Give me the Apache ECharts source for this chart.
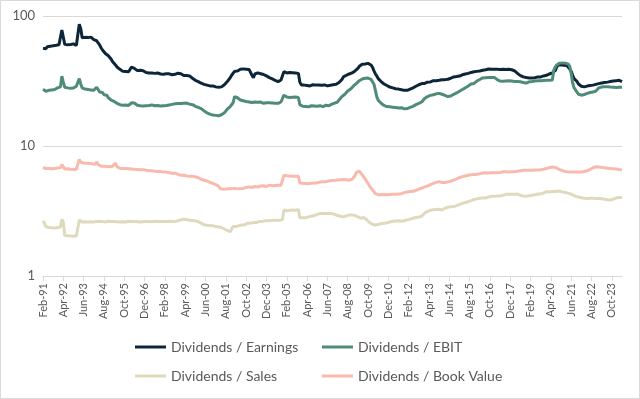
<!DOCTYPE html>
<html>
<head>
<meta charset="utf-8">
<script src="https://cdn.jsdelivr.net/npm/echarts@6/dist/echarts.min.js"></script>
<style>
  html, body { margin: 0; padding: 0; background: #fff; }
  #chart { width: 640px; height: 399px; }
</style>
</head>
<body>
<div id="chart"></div>
<script>
// monthly observations, Feb-91 .. May-24 (one row = Feb..Jan)
const divEarnings = [
  56.5, 57.2, 56.0, 58.1, 57.4, 58.6, 57.9, 59.0, 58.3, 59.5, 58.8, 60.1,
  61.0, 78.0, 77.0, 60.5, 61.2, 60.0, 61.5, 60.3, 59.8, 61.0, 60.2, 59.5,
  60.5, 86.5, 80.0, 68.0, 69.3, 68.5, 69.8, 68.2, 67.5, 68.8, 66.5, 65.8,
  66.8, 64.5, 65.2, 60.0, 57.0, 54.8, 53.0, 51.5, 50.2, 49.5, 48.7, 46.5,
  44.5, 43.0, 42.0, 40.5, 39.6, 38.9, 37.8, 37.5, 38.0, 37.4, 37.6, 37.2,
  38.2, 40.5, 40.8, 39.6, 38.5, 38.0, 37.6, 38.2, 37.5, 37.9, 37.0, 36.8,
  37.2, 36.5, 36.9, 36.4, 36.8, 36.2, 35.9, 36.5, 36.0, 35.8, 36.3, 35.7,
  35.5, 36.0, 35.4, 35.9, 35.8, 35.3, 36.2, 35.6, 35.9, 36.3, 36.5, 36.0,
  35.2, 34.8, 34.5, 34.9, 34.3, 34.6, 34.0, 33.2, 32.8, 32.0, 31.6, 31.3,
  31.0, 30.4, 30.0, 29.8, 29.5, 29.4, 29.2, 29.0, 28.9, 29.0, 28.6, 28.5,
  28.4, 28.3, 28.6, 28.5, 29.0, 29.6, 30.5, 31.3, 32.0, 33.5, 35.0, 36.0,
  37.5, 37.0, 37.8, 38.5, 39.0, 39.5, 39.2, 39.6, 39.0, 38.5, 38.8, 37.5,
  35.0, 33.5, 35.8, 37.0, 36.5, 37.2, 36.0, 35.8, 35.5, 35.2, 34.6, 34.0,
  33.6, 33.2, 32.8, 32.4, 32.0, 31.6, 31.3, 31.5, 32.2, 33.0, 37.3, 37.0,
  36.5, 37.2, 36.8, 36.3, 36.6, 36.0, 36.4, 35.8, 36.2, 31.0, 29.5, 29.8,
  29.4, 29.6, 29.2, 29.5, 29.0, 29.3, 29.6, 29.1, 29.4, 29.2, 29.5, 29.0,
  29.3, 29.1, 29.5, 29.2, 29.0, 29.4, 29.3, 29.1, 29.6, 29.4, 29.8, 30.2,
  30.8, 31.5, 32.5, 34.0, 34.5, 35.0, 35.2, 35.8, 36.0, 36.5, 37.2, 37.8,
  38.4, 39.5, 41.0, 42.0, 42.5, 43.0, 42.8, 43.5, 43.2, 42.6, 42.0, 40.5,
  38.0, 36.0, 34.5, 33.0, 32.2, 31.3, 30.8, 30.0, 29.5, 29.2, 28.8, 28.4,
  28.1, 28.0, 27.8, 27.6, 27.5, 27.4, 27.3, 27.1, 26.9, 26.8, 26.7, 26.8,
  27.0, 27.4, 27.7, 28.0, 28.4, 28.8, 29.3, 29.6, 30.0, 30.2, 30.5, 30.3,
  30.8, 31.0, 31.3, 31.1, 31.5, 31.8, 32.0, 31.8, 32.2, 32.0, 32.5, 32.3,
  32.6, 32.4, 32.8, 32.6, 33.0, 33.2, 33.6, 34.0, 33.8, 34.2, 34.6, 34.5,
  35.0, 35.3, 35.5, 35.8, 36.0, 36.2, 36.5, 36.8, 37.0, 37.2, 37.4, 37.5,
  37.5, 37.8, 38.0, 38.2, 38.4, 38.6, 38.8, 39.1, 38.8, 39.0, 39.3, 39.0,
  38.7, 38.9, 39.2, 38.8, 38.6, 38.9, 38.4, 38.7, 38.6, 38.9, 38.5, 38.6,
  38.5, 37.8, 37.0, 36.2, 35.5, 34.8, 34.2, 34.0, 33.8, 33.6, 33.7, 33.4,
  33.6, 33.3, 33.8, 33.5, 33.5, 34.0, 33.8, 34.0, 34.3, 34.6, 34.5, 35.0,
  35.3, 35.8, 36.2, 36.5, 37.0, 38.0, 40.5, 42.0, 41.8, 42.2, 42.0, 41.8,
  42.2, 41.6, 41.5, 39.0, 37.5, 35.0, 33.0, 32.0, 31.3, 30.0, 29.2, 28.8,
  28.6, 28.5, 28.7, 28.9, 29.0, 29.2, 29.0, 29.4, 29.6, 29.8, 30.0, 30.2,
  30.3, 30.5, 30.4, 30.8, 30.6, 31.0, 31.0, 31.3, 31.2, 31.6, 31.4, 31.8,
  31.8, 32.0, 31.6, 31.3
];

const divEbit = [
  27.3, 27.0, 26.4, 27.2, 26.8, 27.4, 27.0, 27.6, 27.2, 27.8, 28.0, 28.3,
  28.5, 34.5, 31.0, 28.3, 28.6, 28.0, 28.4, 27.8, 28.2, 27.9, 28.1, 28.8,
  29.0, 33.0, 30.0, 28.0, 27.8, 27.4, 27.8, 27.2, 27.6, 27.0, 27.4, 26.8,
  27.0, 28.3, 27.2, 26.0, 25.5, 25.8, 24.8, 24.2, 24.6, 23.5, 22.8, 22.5,
  22.8, 22.0, 21.6, 21.3, 21.0, 20.8, 21.2, 20.6, 21.0, 20.7, 20.9, 20.5,
  20.8, 21.5, 22.0, 21.4, 21.0, 20.6, 20.9, 20.4, 20.8, 20.3, 20.6, 20.4,
  20.2, 20.5, 20.3, 20.7, 20.2, 20.4, 20.1, 20.5, 20.2, 20.3, 20.0, 20.4,
  20.2, 20.5, 20.4, 20.7, 20.6, 20.9, 21.0, 21.1, 21.3, 21.2, 21.4, 21.2,
  21.5, 21.3, 21.6, 21.4, 21.1, 21.0, 20.6, 20.8, 20.5, 20.2, 20.0, 19.8,
  19.7, 19.4, 19.0, 18.6, 18.2, 18.0, 17.8, 17.6, 17.4, 17.3, 17.5, 17.2,
  17.0, 17.1, 17.0, 17.4, 17.8, 18.0, 18.5, 19.2, 19.6, 20.1, 20.8, 21.5,
  24.0, 23.2, 23.5, 23.0, 22.6, 22.6, 22.3, 22.5, 22.0, 22.3, 21.8, 22.0,
  21.6, 21.5, 21.8, 21.4, 21.7, 21.9, 21.8, 21.5, 21.3, 21.6, 21.5, 21.3,
  21.5, 21.2, 21.4, 21.0, 21.3, 21.1, 21.3, 21.5, 21.8, 22.0, 24.6, 24.2,
  23.8, 24.1, 23.6, 23.9, 23.7, 23.5, 23.8, 23.4, 23.6, 20.8, 20.3, 20.2,
  20.4, 20.1, 20.3, 20.0, 20.2, 20.4, 20.1, 20.3, 20.0, 20.2, 20.1, 20.4,
  20.3, 20.1, 20.4, 20.6, 20.5, 20.4, 20.8, 21.0, 21.2, 21.4, 21.5, 21.8,
  22.6, 23.2, 24.0, 24.5, 25.0, 25.8, 26.5, 27.0, 27.4, 28.2, 29.0, 29.8,
  30.3, 31.0, 31.8, 32.5, 32.8, 33.0, 33.2, 32.8, 33.3, 33.0, 32.6, 31.5,
  30.0, 27.0, 24.0, 22.5, 21.8, 21.3, 20.8, 20.5, 20.2, 20.1, 20.3, 20.0,
  20.1, 19.9, 20.2, 19.8, 20.0, 19.6, 20.1, 19.7, 19.4, 19.3, 19.2, 19.4,
  19.6, 19.8, 20.0, 20.2, 20.5, 20.8, 21.0, 21.3, 21.3, 21.8, 22.5, 23.2,
  23.6, 24.0, 24.2, 24.5, 24.4, 24.8, 25.0, 25.2, 25.0, 25.4, 25.4, 25.0,
  24.6, 24.5, 24.2, 24.0, 24.3, 24.2, 24.6, 25.0, 25.4, 25.6, 26.0, 26.4,
  26.8, 27.2, 27.6, 28.0, 28.5, 29.0, 29.5, 30.0, 30.3, 30.3, 31.0, 31.6,
  32.0, 32.5, 33.0, 33.4, 33.7, 33.5, 33.8, 33.6, 33.9, 33.7, 33.5, 33.7,
  33.2, 32.4, 31.8, 31.6, 31.8, 31.5, 31.7, 31.6, 31.4, 31.7, 31.5, 31.6,
  31.6, 31.3, 31.6, 31.4, 31.6, 31.2, 31.0, 30.8, 30.6, 30.5, 30.8, 31.2,
  31.5, 31.3, 31.8, 31.6, 31.9, 31.7, 32.0, 31.8, 32.1, 31.9, 32.2, 32.0,
  32.3, 32.0, 32.4, 32.2, 38.4, 40.5, 42.0, 43.0, 43.4, 43.0, 43.5, 43.2,
  43.4, 43.0, 42.6, 41.0, 36.0, 30.5, 28.0, 27.2, 26.0, 25.0, 24.8, 24.6,
  24.6, 24.9, 25.2, 25.4, 25.5, 25.8, 25.6, 26.0, 26.1, 26.5, 27.2, 28.0,
  28.6, 28.4, 28.7, 28.5, 28.8, 28.6, 28.6, 28.4, 28.5, 28.3, 28.4, 28.2,
  28.4, 28.3, 28.2, 28.3
];

const divSales = [
  2.66, 2.55, 2.40, 2.33, 2.36, 2.32, 2.35, 2.31, 2.34, 2.33, 2.36, 2.34,
  2.38, 2.73, 2.60, 2.05, 2.03, 2.04, 2.02, 2.03, 2.04, 2.02, 2.03, 2.04,
  2.03, 2.70, 2.64, 2.60, 2.63, 2.61, 2.62, 2.60, 2.63, 2.61, 2.64, 2.60,
  2.62, 2.63, 2.60, 2.64, 2.61, 2.62, 2.63, 2.60, 2.62, 2.64, 2.61, 2.63,
  2.60, 2.62, 2.64, 2.61, 2.63, 2.60, 2.62, 2.61, 2.63, 2.60, 2.62, 2.64,
  2.61, 2.63, 2.60, 2.62, 2.64, 2.61, 2.62, 2.60, 2.63, 2.61, 2.62, 2.64,
  2.60, 2.62, 2.63, 2.61, 2.62, 2.64, 2.61, 2.63, 2.60, 2.62, 2.64, 2.62,
  2.61, 2.63, 2.62, 2.64, 2.61, 2.63, 2.65, 2.62, 2.64, 2.66, 2.68, 2.70,
  2.72, 2.73, 2.75, 2.72, 2.70, 2.68, 2.66, 2.67, 2.65, 2.66, 2.64, 2.62,
  2.58, 2.55, 2.50, 2.48, 2.47, 2.46, 2.48, 2.45, 2.47, 2.44, 2.42, 2.40,
  2.40, 2.38, 2.40, 2.36, 2.34, 2.30, 2.27, 2.24, 2.22, 2.19, 2.21, 2.40,
  2.38, 2.40, 2.42, 2.44, 2.46, 2.47, 2.45, 2.48, 2.52, 2.55, 2.57, 2.55,
  2.57, 2.58, 2.56, 2.58, 2.60, 2.62, 2.60, 2.63, 2.65, 2.66, 2.64, 2.66,
  2.65, 2.67, 2.66, 2.68, 2.67, 2.69, 2.70, 2.68, 2.70, 2.72, 3.22, 3.20,
  3.18, 3.22, 3.20, 3.19, 3.22, 3.18, 3.21, 3.20, 3.24, 2.80, 2.78, 2.80,
  2.82, 2.80, 2.83, 2.85, 2.84, 2.88, 2.90, 2.92, 2.95, 2.98, 3.02, 3.03,
  3.04, 3.03, 3.05, 3.02, 3.04, 3.03, 3.05, 3.02, 3.00, 2.98, 2.95, 2.92,
  2.90, 2.88, 2.86, 2.85, 2.88, 2.90, 2.92, 2.95, 2.96, 2.94, 2.95, 2.92,
  2.88, 2.85, 2.82, 2.78, 2.80, 2.82, 2.78, 2.72, 2.65, 2.58, 2.52, 2.50,
  2.48, 2.47, 2.47, 2.49, 2.51, 2.53, 2.55, 2.55, 2.57, 2.56, 2.58, 2.60,
  2.62, 2.64, 2.63, 2.65, 2.66, 2.66, 2.67, 2.65, 2.68, 2.66, 2.68, 2.70,
  2.72, 2.74, 2.75, 2.78, 2.80, 2.82, 2.83, 2.84, 2.85, 2.88, 2.95, 3.05,
  3.10, 3.14, 3.18, 3.20, 3.22, 3.24, 3.26, 3.25, 3.28, 3.26, 3.25, 3.22,
  3.28, 3.32, 3.35, 3.38, 3.40, 3.41, 3.43, 3.42, 3.45, 3.48, 3.52, 3.55,
  3.58, 3.62, 3.65, 3.68, 3.70, 3.73, 3.76, 3.80, 3.84, 3.88, 3.90, 3.92,
  3.94, 3.96, 3.97, 3.98, 4.00, 3.98, 4.02, 4.05, 4.08, 4.10, 4.12, 4.11,
  4.13, 4.12, 4.14, 4.13, 4.15, 4.18, 4.22, 4.25, 4.27, 4.26, 4.28, 4.26,
  4.27, 4.25, 4.24, 4.27, 4.22, 4.18, 4.15, 4.13, 4.12, 4.10, 4.12, 4.14,
  4.15, 4.18, 4.20, 4.22, 4.24, 4.27, 4.26, 4.28, 4.30, 4.35, 4.40, 4.45,
  4.46, 4.45, 4.47, 4.46, 4.48, 4.46, 4.47, 4.50, 4.48, 4.46, 4.42, 4.40,
  4.38, 4.36, 4.35, 4.30, 4.25, 4.20, 4.15, 4.10, 4.07, 4.05, 4.02, 4.00,
  3.98, 3.96, 3.98, 3.95, 3.97, 3.96, 3.94, 3.97, 3.96, 3.95, 3.98, 3.96,
  3.95, 3.93, 3.92, 3.90, 3.88, 3.86, 3.85, 3.84, 3.86, 3.90, 3.95, 3.98,
  4.00, 4.01, 4.00, 4.02
];

const divBook = [
  6.86, 6.75, 6.70, 6.82, 6.72, 6.80, 6.68, 6.75, 6.70, 6.82, 6.78, 6.85,
  6.80, 7.20, 6.90, 6.65, 6.60, 6.68, 6.58, 6.62, 6.55, 6.60, 6.58, 6.62,
  6.60, 7.90, 7.50, 7.36, 7.40, 7.32, 7.38, 7.30, 7.34, 7.28, 7.30, 7.25,
  7.22, 7.55, 7.20, 7.05, 7.00, 7.02, 6.98, 7.00, 6.95, 6.96, 6.92, 6.95,
  6.98, 7.05, 7.40, 6.90, 6.80, 6.75, 6.78, 6.72, 6.74, 6.70, 6.72, 6.68,
  6.70, 6.65, 6.68, 6.62, 6.64, 6.60, 6.62, 6.58, 6.56, 6.58, 6.55, 6.52,
  6.50, 6.48, 6.45, 6.46, 6.42, 6.40, 6.38, 6.36, 6.35, 6.38, 6.32, 6.30,
  6.28, 6.30, 6.25, 6.22, 6.20, 6.18, 6.16, 6.18, 6.12, 6.05, 6.00, 5.96,
  5.92, 5.95, 5.90, 5.88, 5.90, 5.86, 5.88, 5.84, 5.85, 5.80, 5.75, 5.70,
  5.65, 5.55, 5.50, 5.45, 5.40, 5.38, 5.30, 5.25, 5.20, 5.15, 5.10, 5.05,
  5.02, 4.90, 4.70, 4.62, 4.65, 4.62, 4.66, 4.64, 4.68, 4.65, 4.70, 4.67,
  4.72, 4.70, 4.68, 4.72, 4.70, 4.74, 4.72, 4.76, 4.80, 4.78, 4.85, 4.82,
  4.80, 4.85, 4.88, 4.86, 4.84, 4.90, 4.92, 4.88, 4.95, 4.90, 4.88, 4.92,
  5.00, 4.96, 4.94, 4.98, 4.96, 5.00, 4.98, 5.02, 5.00, 5.05, 5.95, 6.05,
  5.90, 5.85, 5.88, 5.84, 5.86, 5.82, 5.85, 5.88, 5.84, 5.20, 5.15, 5.16,
  5.18, 5.14, 5.16, 5.12, 5.15, 5.18, 5.16, 5.20, 5.22, 5.20, 5.25, 5.28,
  5.26, 5.30, 5.28, 5.32, 5.35, 5.38, 5.40, 5.42, 5.45, 5.44, 5.46, 5.48,
  5.45, 5.50, 5.47, 5.52, 5.48, 5.50, 5.47, 5.46, 5.50, 5.55, 5.60, 5.90,
  6.30, 6.45, 6.40, 6.20, 6.00, 5.80, 5.60, 5.35, 5.16, 4.95, 4.75, 4.60,
  4.46, 4.30, 4.20, 4.22, 4.18, 4.21, 4.19, 4.23, 4.20, 4.22, 4.18, 4.24,
  4.21, 4.25, 4.22, 4.26, 4.24, 4.28, 4.27, 4.30, 4.35, 4.38, 4.40, 4.42,
  4.44, 4.46, 4.45, 4.48, 4.50, 4.55, 4.60, 4.65, 4.72, 4.75, 4.80, 4.85,
  4.88, 4.92, 4.98, 5.05, 5.10, 5.16, 5.20, 5.25, 5.28, 5.32, 5.30, 5.24,
  5.20, 5.24, 5.26, 5.30, 5.32, 5.36, 5.42, 5.47, 5.50, 5.58, 5.65, 5.72,
  5.78, 5.81, 5.84, 5.88, 5.92, 5.95, 5.98, 6.00, 6.02, 6.04, 6.05, 6.06,
  6.10, 6.12, 6.15, 6.20, 6.23, 6.22, 6.25, 6.20, 6.24, 6.22, 6.26, 6.23,
  6.25, 6.22, 6.28, 6.26, 6.30, 6.34, 6.30, 6.33, 6.36, 6.32, 6.35, 6.34,
  6.38, 6.34, 6.36, 6.40, 6.38, 6.44, 6.46, 6.50, 6.48, 6.52, 6.54, 6.50,
  6.55, 6.52, 6.56, 6.54, 6.58, 6.55, 6.52, 6.56, 6.58, 6.62, 6.66, 6.72,
  6.78, 6.82, 6.88, 6.90, 6.93, 6.85, 6.75, 6.66, 6.60, 6.52, 6.46, 6.40,
  6.36, 6.34, 6.32, 6.30, 6.33, 6.30, 6.34, 6.31, 6.35, 6.32, 6.34, 6.30,
  6.34, 6.36, 6.40, 6.45, 6.52, 6.60, 6.70, 6.80, 6.88, 6.92, 6.93, 6.90,
  6.88, 6.85, 6.84, 6.80, 6.78, 6.75, 6.72, 6.70, 6.72, 6.68, 6.70, 6.66,
  6.62, 6.60, 6.58, 6.55
];

const monthNames = ['Jan', 'Feb', 'Mar', 'Apr', 'May', 'Jun', 'Jul', 'Aug', 'Sep', 'Oct', 'Nov', 'Dec'];
const yTicks = [1, 10, 100];

// month labels starting Feb-91
const months = [];
for (let k = 0; k < divEarnings.length; k++) {
  const m = (1 + k) % 12;
  const y = 1991 + Math.floor((1 + k) / 12);
  months.push(monthNames[m] + '-' + String(y % 100).padStart(2, '0'));
}

const FONT = 'Lato, "Liberation Sans", sans-serif';
const TEXT = '#595959';
const GRID = '#d9d9d9';

const seriesDefs = [
  { name: 'Dividends / Earnings', data: divEarnings, color: '#0c2538' },
  { name: 'Dividends / EBIT', data: divEbit, color: '#4e8b79' },
  { name: 'Dividends / Sales', data: divSales, color: '#dfdabd' },
  { name: 'Dividends / Book Value', data: divBook, color: '#f9b9ac' }
];

// one legend per entry so both rows line up in two columns
const legendPos = [
  { left: 135, top: 340 },
  { left: 322, top: 340 },
  { left: 135, top: 369 },
  { left: 322, top: 369 }
];

const chart = echarts.init(document.getElementById('chart'));

chart.setOption({
  animation: false,
  backgroundColor: '#fff',
  textStyle: { fontFamily: FONT },
  grid: { left: 43, right: 18, top: 16, bottom: 123 },
  legend: seriesDefs.map((s, i) => ({
    data: [s.name],
    left: legendPos[i].left,
    top: legendPos[i].top,
    padding: 0,
    icon: 'rect',
    itemWidth: 31,
    itemHeight: 3,
    textStyle: { fontFamily: FONT, fontSize: 14, color: TEXT },
    selectedMode: false
  })),
  xAxis: {
    type: 'category',
    data: months,
    boundaryGap: false,
    axisLine: { lineStyle: { color: GRID } },
    axisTick: { show: true, interval: 13, length: 5, lineStyle: { color: GRID } },
    axisLabel: {
      interval: 13,
      rotate: 90,
      fontFamily: FONT,
      fontSize: 11,
      color: TEXT,
      margin: 7
    },
    splitLine: { show: false }
  },
  yAxis: {
    type: 'log',
    logBase: 10,
    min: yTicks[0],
    max: yTicks[yTicks.length - 1],
    axisLine: { show: false },
    axisTick: { show: false },
    axisLabel: { fontFamily: FONT, fontSize: 13, color: TEXT, margin: 8 },
    splitLine: { lineStyle: { color: GRID } }
  },
  series: seriesDefs.map(s => ({
    name: s.name,
    type: 'line',
    data: s.data,
    symbol: 'none',
    color: s.color,
    lineStyle: { width: 3, color: s.color }
  })),
  graphic: [{
    type: 'rect',
    shape: { x: 0.5, y: 0.5, width: 639, height: 398 },
    style: { fill: 'none', stroke: GRID, lineWidth: 1 },
    silent: true
  }]
});
</script>
</body>
</html>
